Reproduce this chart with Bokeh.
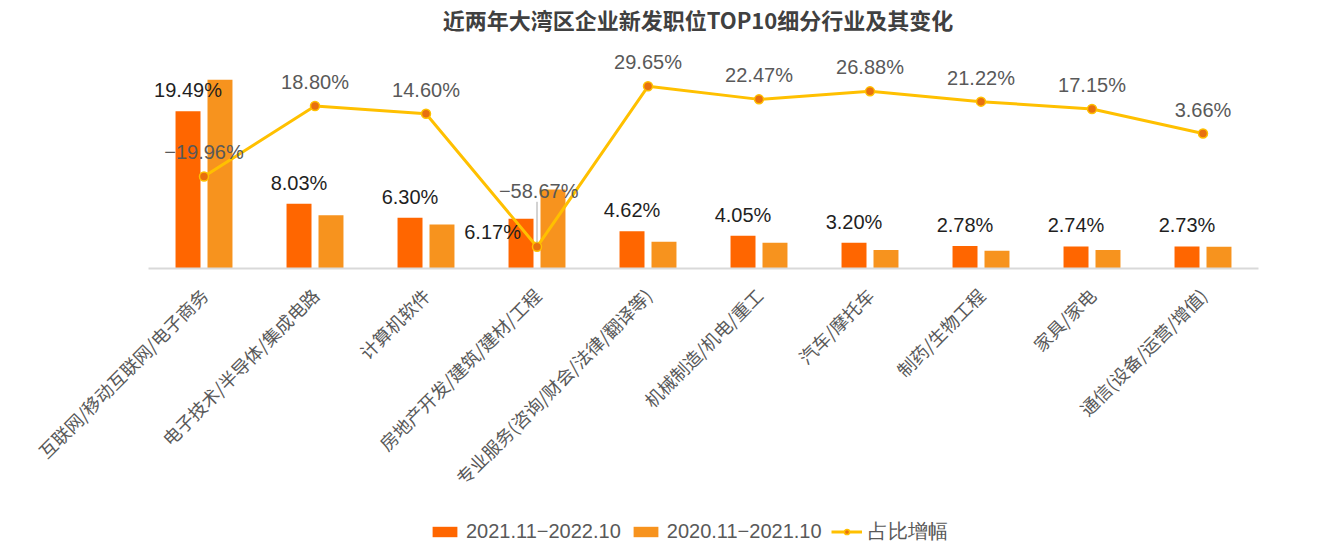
from math import pi
from bokeh.plotting import figure
from bokeh.layouts import column
from bokeh.models import (FactorRange, Range1d, ColumnDataSource, Label, Legend, LegendItem)
from bokeh.transform import dodge
from bokeh.core.properties import value
from bokeh.embed import file_html
from bokeh.resources import INLINE

# ---------------- data ----------------
chart_title = "近两年大湾区企业新发职位TOP10细分行业及其变化"
categories = [
    "互联网/移动互联网/电子商务",
    "电子技术/半导体/集成电路",
    "计算机软件",
    "房地产开发/建筑/建材/工程",
    "专业服务(咨询/财会/法律/翻译等)",
    "机械制造/机电/重工",
    "汽车/摩托车",
    "制药/生物工程",
    "家具/家电",
    "通信(设备/运营/增值)",
]
share_2022 = [19.49, 8.03, 6.30, 6.17, 4.62, 4.05, 3.20, 2.78, 2.74, 2.73]
share_2021 = [23.4, 6.6, 5.45, 9.8, 3.3, 3.2, 2.3, 2.2, 2.3, 2.7]
growth = [-19.96, 18.80, 14.60, -58.67, 29.65, 22.47, 26.88, 21.22, 17.15, 3.66]
series_names = ["2021.11−2022.10", "2020.11−2021.10", "占比增幅"]

# ---------------- layout / style ----------------
W = 1324
H_MAIN, H_LEG = 512, 37
LEFT, RIGHT = 148, 66
BASE_Y = 268                      # frame bottom (bar baseline), frame top at 0
BOTTOM = H_MAIN - BASE_Y
PX_SHARE = 8.07                   # px per % on bar axis
PX_G = 1.817                      # px per % on growth axis
G_ZERO_Y = 139.7                  # px of growth zero
g_top = G_ZERO_Y / PX_G
g_bottom = g_top - BASE_Y / PX_G

C_DARK = "#FF6600"
C_LIGHT = "#F7931E"
C_LINE = "#FFC000"
C_MARK = "#E8700F"
NUM_FONT = "Liberation Sans"
CJK_FONT = "Noto Sans CJK SC"

def pct(v):
    return f"{v:.2f}%".replace("-", "−")

p = figure(
    width=W, height=H_MAIN,
    x_range=FactorRange(*categories, range_padding=0),
    y_range=Range1d(0, BASE_Y / PX_SHARE),
    output_backend="svg", toolbar_location=None,
    min_border_left=LEFT, min_border_right=RIGHT,
    min_border_top=0, min_border_bottom=BOTTOM,
)
p.extra_y_ranges = {"g": Range1d(g_bottom, g_top)}
n = len(categories)
p.outline_line_color = None
p.grid.visible = False
p.yaxis.visible = False
p.background_fill_color = "white"
p.border_fill_color = "white"

ax = p.xaxis[0]
ax.major_label_orientation = pi / 4
ax.major_tick_line_color = None
ax.minor_tick_line_color = None
ax.axis_line_color = "#D9D9D9"
ax.axis_line_width = 2
ax.major_label_text_font = CJK_FONT
ax.major_label_text_font_size = "18px"
ax.major_label_text_color = "#595959"
ax.major_label_standoff = 17

src = ColumnDataSource(dict(cat=categories, s22=share_2022, s21=share_2021, g=growth))

OFF = 0.144
BW = 0.225
r1 = p.vbar(x=dodge("cat", -OFF, range=p.x_range), top="s22", width=BW,
            source=src, fill_color=C_DARK, line_color=None)
r2 = p.vbar(x=dodge("cat", OFF, range=p.x_range), top="s21", width=BW,
            source=src, fill_color=C_LIGHT, line_color=None)
rl = p.line(x="cat", y="g", source=src, y_range_name="g",
            line_color=C_LINE, line_width=3)
rs = p.scatter(x="cat", y="g", source=src, y_range_name="g", size=9,
               fill_color=C_MARK, line_color=C_LINE, line_width=1.5)

# bar labels (dark series); the 4th is placed to the left of its bar
normal = [i for i in range(n) if i != 3]
src_b = ColumnDataSource(dict(cat=[categories[i] for i in normal],
                              y=[share_2022[i] for i in normal],
                              t=[pct(share_2022[i]) for i in normal]))
p.text(x=dodge("cat", -OFF, range=p.x_range), y="y", text="t", source=src_b,
       text_align="center", text_baseline="alphabetic", y_offset=-21,
       text_font=value(NUM_FONT), text_font_size="20px", text_color="#1F1F1F")
src_b2 = ColumnDataSource(dict(cat=[categories[3]], y=[share_2022[3]], t=[pct(share_2022[3])]))
p.text(x=dodge("cat", -0.40, range=p.x_range), y="y", text="t", source=src_b2,
       text_align="center", text_baseline="alphabetic", y_offset=13,
       text_font=value(NUM_FONT), text_font_size="20px", text_color="#1F1F1F")

# line labels
src_g = ColumnDataSource(dict(cat=[categories[i] for i in normal],
                              y=[growth[i] for i in normal],
                              t=[pct(growth[i]) for i in normal]))
p.text(x="cat", y="y", text="t", source=src_g, y_range_name="g",
       text_align="center", text_baseline="alphabetic", y_offset=-24,
       text_font=value(NUM_FONT), text_font_size="20px", text_color="#595959")
src_g2 = ColumnDataSource(dict(cat=[categories[3]], y=[growth[3]], t=[pct(growth[3])]))
p.text(x=dodge("cat", 0.015, range=p.x_range), y="y", text="t", source=src_g2,
       y_range_name="g", text_align="center", text_baseline="alphabetic", y_offset=-56,
       text_font=value(NUM_FONT), text_font_size="20px", text_color="#595959")
# leader line for the displaced label
p.segment(x0=[categories[3]], x1=[categories[3]],
          y0=[growth[3] + 4 / PX_G], y1=[growth[3] + 45 / PX_G],
          y_range_name="g", line_color="#A6A6A6", line_width=1)

# title (inside the top of the frame)
p.add_layout(Label(x=4.95, y=(BASE_Y - 18) / PX_SHARE, text=chart_title,
                   text_align="center", text_baseline="middle",
                   text_font=CJK_FONT, text_font_size="22px",
                   text_font_style="bold", text_color="#404040"))

# ---------------- legend strip ----------------
q = figure(width=W, height=H_LEG, x_range=Range1d(0, 1), y_range=Range1d(0, 1),
           output_backend="svg", toolbar_location=None,
           min_border_left=0, min_border_right=0, min_border_top=0, min_border_bottom=0)
q.axis.visible = False
q.grid.visible = False
q.outline_line_color = None
# one off-screen point each, only so that the legend swatches get drawn
proxy = ColumnDataSource(dict(x=[-10], top=[-10], y=[-10]))
k1 = q.vbar(x="x", top="top", width=1, source=proxy, fill_color=C_DARK, line_color=None)
k2 = q.vbar(x="x", top="top", width=1, source=proxy, fill_color=C_LIGHT, line_color=None)
kl = q.line(x="x", y="y", source=proxy, line_color=C_LINE, line_width=3)
ks = q.scatter(x="x", y="y", source=proxy, size=9, fill_color=C_MARK,
               line_color=C_LINE, line_width=1.5)
legend = Legend(items=[
    LegendItem(label=series_names[0], renderers=[k1]),
    LegendItem(label=series_names[1], renderers=[k2]),
    LegendItem(label=series_names[2], renderers=[kl, ks]),
], location=(281, 4), orientation="horizontal")
legend.padding = 0
legend.margin = 0
legend.spacing = 9
legend.label_standoff = 6
legend.glyph_width = 31
legend.glyph_height = 13
legend.border_line_color = None
legend.background_fill_alpha = 0
legend.label_text_font = NUM_FONT
legend.label_text_font_size = "20px"
legend.label_text_color = "#595959"
q.add_layout(legend)

layout = column(p, q, spacing=0)
open("out.html", "w").write(file_html(layout, INLINE))
